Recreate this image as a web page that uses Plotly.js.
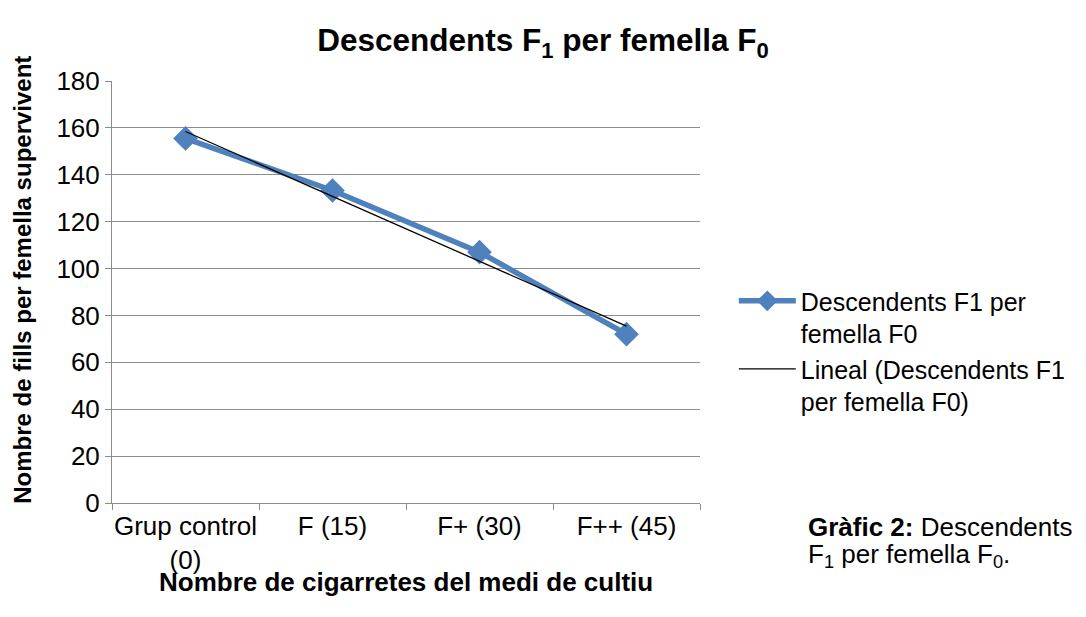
<!DOCTYPE html>
<html>
<head>
<meta charset="utf-8">
<script src="https://cdn.plot.ly/plotly-3.0.1.min.js"></script>
<style>html,body{margin:0;padding:0;background:#fff;}#chart{width:1086px;height:617px;}</style>
</head>
<body>
<div id="chart"></div>
<script>
const categories = ["Grup control<br>(0)", "F (15)", "F+ (30)", "F++ (45)"];
const values = [155.5, 133.3, 107.0, 72.0];
const seriesName = "Descendents F1 per<br>femella F0";
const trendName = "Lineal (Descendents F1<br>per femella F0)";
const yTicks = [0, 20, 40, 60, 80, 100, 120, 140, 160, 180];

// least-squares linear trend (as Excel's "Lineal" trendline)
const n = values.length;
const xs = values.map((_, i) => i + 1);
const mx = xs.reduce((a, b) => a + b, 0) / n;
const my = values.reduce((a, b) => a + b, 0) / n;
let sxy = 0, sxx = 0;
for (let i = 0; i < n; i++) { sxy += (xs[i] - mx) * (values[i] - my); sxx += (xs[i] - mx) ** 2; }
const slope = sxy / sxx, icpt = my - slope * mx;
const trend = xs.map(x => icpt + slope * x);

const font = "Liberation Sans, Arial, sans-serif";
const grid = "#8c8c8c";
const fs = 26;

const data = [
  {
    x: categories, y: values, type: "scatter", mode: "lines+markers", name: seriesName,
    line: {color: "#4F81BD", width: 5.5},
    marker: {symbol: "diamond", size: 19, color: "#4F81BD"}
  },
  {
    x: categories, y: trend, type: "scatter", mode: "lines", name: trendName,
    line: {color: "#000000", width: 1.3}
  }
];

const layout = {
  width: 1086, height: 617,
  paper_bgcolor: "#fff", plot_bgcolor: "#fff",
  margin: {l: 112, r: 386, t: 81, b: 114},
  font: {family: font, size: fs, color: "#000"},
  title: {
    text: "<b>Descendents F<sub>1</sub> per femella F<sub>0</sub></b>",
    font: {family: font, size: 31.5, color: "#000"},
    x: 0.5, xref: "container", xanchor: "center", y: 0.935, yanchor: "middle"
  },
  xaxis: {
    type: "category", range: [-0.5, 3.5], automargin: false,
    showgrid: false, showline: true, linecolor: grid, linewidth: 1,
    ticks: "outside", tickson: "boundaries", ticklen: 6, tickcolor: grid,
    tickangle: 0,
    tickfont: {family: font, size: fs, color: "#000"},
    zeroline: false, fixedrange: true
  },
  yaxis: {
    range: [0, 180], tickvals: yTicks, automargin: false,
    showgrid: true, gridcolor: grid, gridwidth: 1,
    showline: true, linecolor: grid, linewidth: 1,
    ticks: "outside", ticklen: 6, tickcolor: grid,
    tickfont: {family: font, size: fs, color: "#000"},
    zeroline: false, fixedrange: true
  },
  showlegend: true,
  legend: {
    x: 1.0575, xanchor: "left", y: 0.36, yanchor: "middle",
    font: {family: font, size: 25, color: "#000"},
    itemwidth: 57, tracegroupgap: 2, valign: "top",
    bgcolor: "rgba(0,0,0,0)", borderwidth: 0
  },
  annotations: [
    {
      text: "<b>Nombre de fills per femella supervivent</b>",
      xref: "paper", yref: "paper", x: -0.152, y: 0.528, xanchor: "center", yanchor: "middle",
      textangle: -90, showarrow: false, font: {family: font, size: 24, color: "#000"}
    },
    {
      text: "<b>Nombre de cigarretes del medi de cultiu</b>",
      xref: "paper", yref: "paper", x: 0.5, y: -0.188, xanchor: "center", yanchor: "middle",
      showarrow: false, font: {family: font, size: 26, color: "#000"}
    },
    {
      text: "<b>Gràfic 2:</b> Descendents",
      xref: "paper", yref: "paper", x: 1.18, y: -0.056, xanchor: "left", yanchor: "middle",
      align: "left", showarrow: false, font: {family: font, size: fs, color: "#000"}
    },
    {
      text: "F<sub>1</sub> per femella F<sub>0</sub>.",
      xref: "paper", yref: "paper", x: 1.18, y: -0.124, xanchor: "left", yanchor: "middle",
      align: "left", showarrow: false, font: {family: font, size: fs, color: "#000"}
    }
  ]
};

Plotly.newPlot("chart", data, layout, {displayModeBar: false, staticPlot: true});
</script>
</body>
</html>
